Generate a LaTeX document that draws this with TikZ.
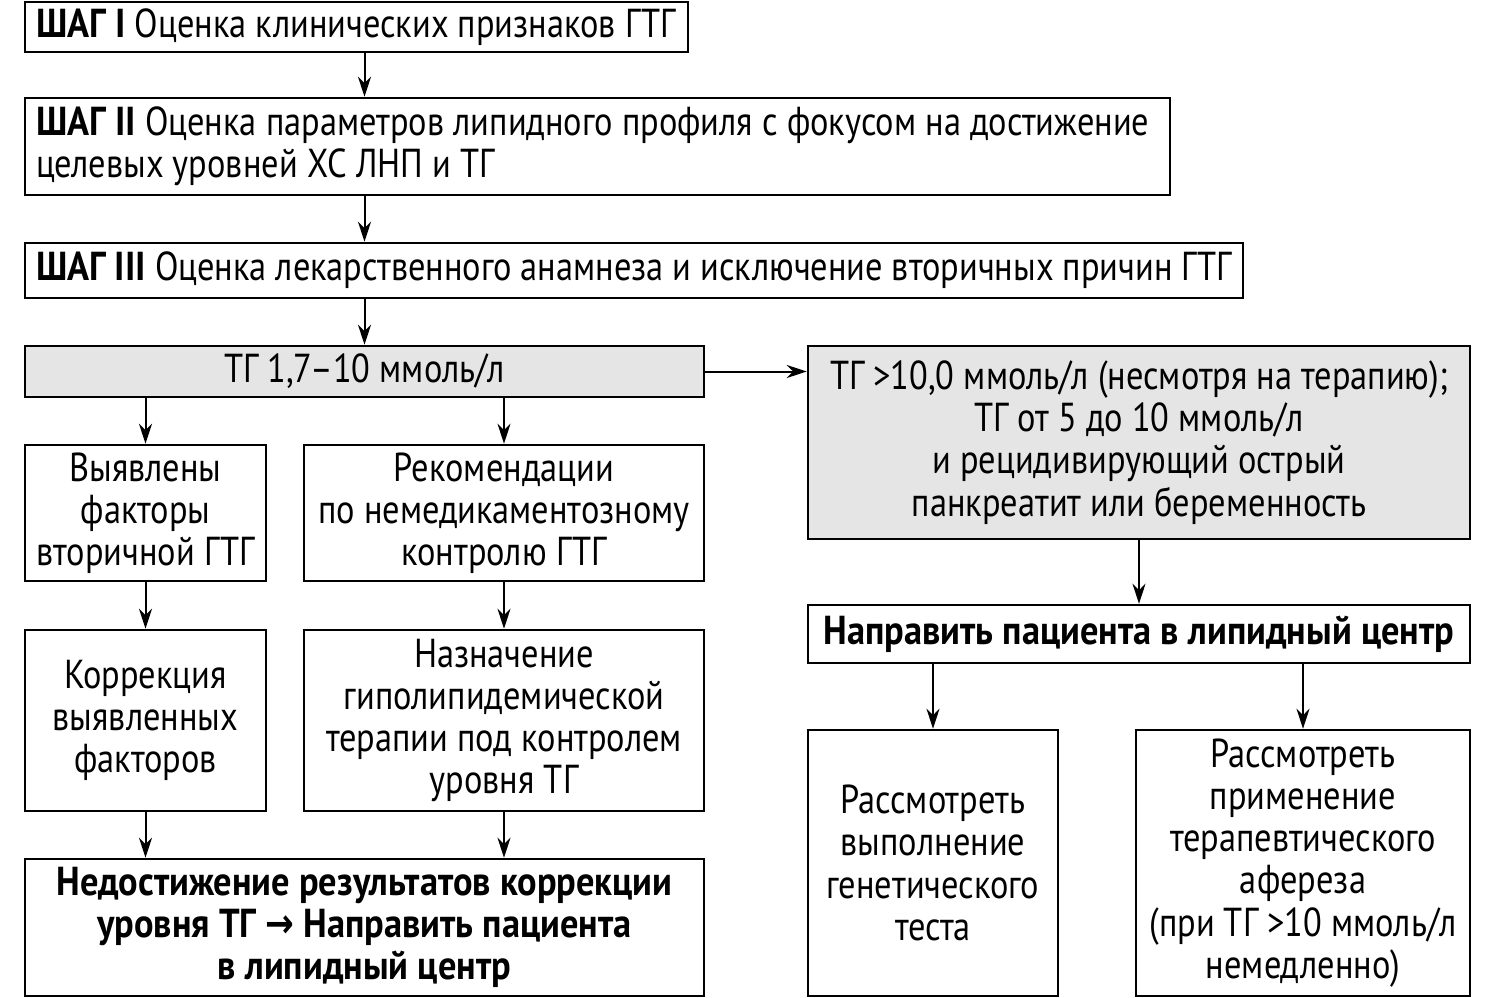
\documentclass[tikz,border=0pt]{standalone}
\usepackage{fontspec}
\setmainfont{PT Sans}[UprightFeatures={FakeStretch=0.85},BoldFeatures={FakeStretch=0.9}]
\newfontfamily\arrowfont{DejaVu Sans}[FakeStretch=0.85]
\usetikzlibrary{arrows.meta}

\begin{document}
\begin{tikzpicture}[x=0.1mm,y=-0.1mm,
  box/.style={draw,line width=0.25mm,inner sep=0pt,align=center,font=\fontsize{11.5}{12}\selectfont},
  stepbox/.style={box,align=flush left,inner xsep=1.1mm},
  grey/.style={box,fill=black!10},
  bold/.style={box,font=\fontsize{11.5}{12}\selectfont\bfseries},
  arr/.style={-{Stealth[length=2mm,width=1.3mm]},line width=0.2mm}]
\useasboundingbox (0,0) rectangle (1494,998);

% steps
\node[stepbox,text width=64.1mm,minimum height=5mm] (s1) at (356.5,27)
  {\textbf{ШАГ I} Оценка клинических признаков ГТГ};
\node[stepbox,text width=112.3mm,minimum height=9.7mm] (s2) at (597.5,146.5)
  {\textbf{ШАГ II} Оценка параметров липидного профиля с фокусом на достижение\\целевых уровней ХС ЛНП и ТГ};
\node[stepbox,text width=119.6mm,minimum height=5.5mm] (s3) at (634,270.5)
  {\textbf{ШАГ III} Оценка лекарственного анамнеза и исключение вторичных причин ГТГ};

% left branch
\node[grey,minimum width=67.9mm,minimum height=5.1mm] (tg) at (364.5,371.5) {ТГ 1,7–10 ммоль/л};
\node[box,minimum width=24.1mm,minimum height=13.6mm] (sec) at (145.5,513)
  {Выявлены\\факторы\\вторичной ГТГ};
\node[box,minimum width=40mm,minimum height=13.6mm] (rec) at (504,513)
  {Рекомендации\\по немедикаментозному\\контролю ГТГ};
\node[box,minimum width=24.1mm,minimum height=18.1mm] (corr) at (145.5,720.5)
  {Коррекция\\выявленных\\факторов};
\node[box,minimum width=40mm,minimum height=18.1mm] (ther) at (504,720.5)
  {Назначение\\гиполипидемической\\терапии под контролем\\уровня ТГ};
\node[bold,minimum width=67.9mm,minimum height=13.7mm] (fail) at (364.5,927.5)
  {Недостижение результатов коррекции\\уровня ТГ {\arrowfont →} Направить пациента\\в липидный центр};

% right branch
\node[grey,minimum width=66.2mm,minimum height=19.3mm] (high) at (1139,442.5)
  {ТГ >10,0 ммоль/л (несмотря на терапию);\\ТГ от 5 до 10 ммоль/л\\и рецидивирующий острый\\панкреатит или беременность};
\node[bold,minimum width=66.2mm,minimum height=5.8mm] (ref) at (1139,634)
  {Направить пациента в липидный центр};
\node[box,minimum width=25mm,minimum height=26.6mm] (gen) at (933,863)
  {Рассмотреть\\выполнение\\генетического\\теста};
\node[box,minimum width=33.4mm,minimum height=26.6mm] (aph) at (1303,863)
  {Рассмотреть\\применение\\терапевтического\\афереза\\(при ТГ >10 ммоль/л\\немедленно)};

% arrows
\draw[arr] (s1.south -| tg) -- (s2.north -| tg);
\draw[arr] (s2.south -| tg) -- (s3.north -| tg);
\draw[arr] (s3.south -| tg) -- (tg.north);
\draw[arr] (tg.south -| sec) -- (sec.north);
\draw[arr] (tg.south -| rec) -- (rec.north);
\foreach \a/\b in {sec/corr,rec/ther,high/ref}
  \draw[arr] (\a.south) -- (\b.north);
\draw[arr] (corr.south) -- (corr.south |- fail.north);
\draw[arr] (ther.south) -- (ther.south |- fail.north);
\draw[arr] (tg.east) -- (tg.east -| high.west);
\draw[arr] (ref.south -| gen) -- (gen.north);
\draw[arr] (ref.south -| aph) -- (aph.north);

\end{tikzpicture}
\end{document}
